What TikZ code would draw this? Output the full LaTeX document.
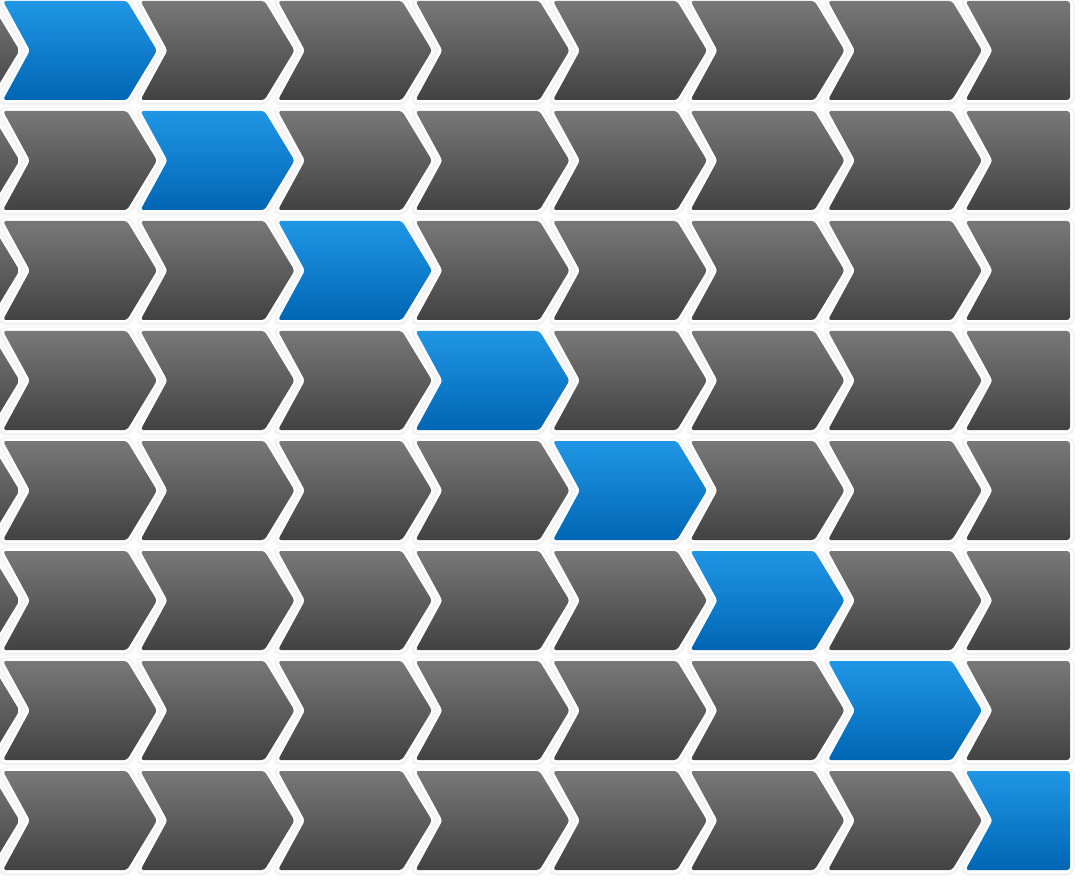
\documentclass[tikz,border=0pt]{standalone}
\usepackage{tikz}
\definecolor{gtop}{HTML}{787878}
\definecolor{gmid}{HTML}{686868}
\definecolor{gbot}{HTML}{424242}
\definecolor{btop}{HTML}{2096E6}
\definecolor{bmid}{HTML}{158BDD}
\definecolor{bbot}{HTML}{0066B4}
\tikzset{
  chevbase/.style={rounded corners=3pt,
    preaction={draw=black!3,line width=10pt,transform canvas={yshift=-0.8pt}},
    preaction={draw=black!6,line width=7.5pt,transform canvas={yshift=-0.6pt}},
    preaction={draw=white,line width=5.5pt}},
  graychev/.style={chevbase,top color=gtop,middle color=gmid,bottom color=gbot},
  bluechev/.style={chevbase,top color=btop,middle color=bmid,bottom color=bbot}
}
\newcommand\mychev[3]{%
  \shade[#3] (#1,#2) -- ++(124,0) -- ++(30,49.5) -- ++(-30,49.5) -- ++(-124,0) -- ++(27,-49.5) -- cycle;}
\newcommand\mylastchev[3]{%
  \shade[#3] (#1,#2) -- (1070,#2) -- ++(0,99) -- (#1,#2+99) -- ++(27,-49.5) -- cycle;}
\begin{document}
\begin{tikzpicture}[x=1pt,y=-1pt]
\useasboundingbox (0,0) rectangle (1089,890);
\fill[white] (0,0) rectangle (1089,890);
\clip (0,0) rectangle (1089,890);
\foreach \r in {0,...,7}{
  \foreach \c in {-1,...,7}{
    \pgfmathsetmacro\xa{3+137.5*\c}
    \pgfmathsetmacro\ya{1+110*\r}
    \ifnum\c=\r \def\sty{bluechev}\else\def\sty{graychev}\fi
    \ifnum\c=7
      \mylastchev{\xa}{\ya}{\sty}
    \else
      \mychev{\xa}{\ya}{\sty}
    \fi
  }
}
\end{tikzpicture}
\end{document}
